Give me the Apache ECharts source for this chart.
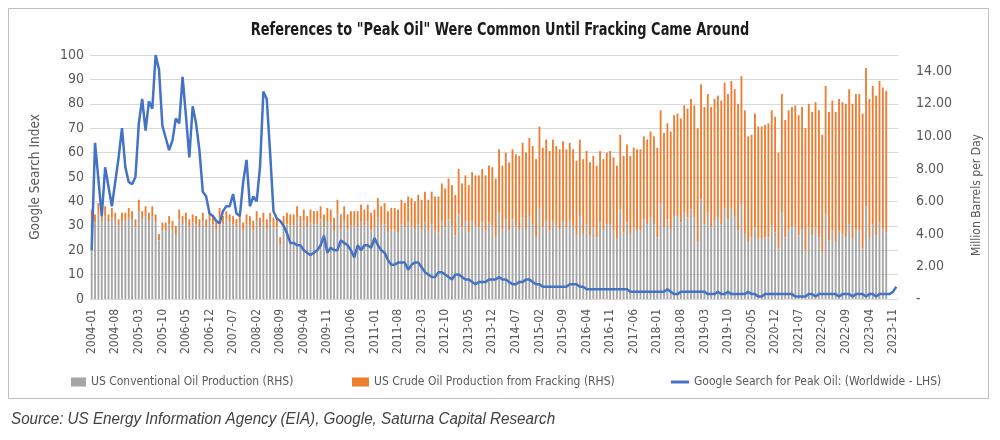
<!DOCTYPE html>
<html>
<head>
<meta charset="utf-8">
<script src="https://cdn.jsdelivr.net/npm/echarts@6/dist/echarts.min.js"></script>
<style>
  html, body { margin: 0; padding: 0; background: #fff; }
  #chart { width: 1000px; height: 440px; }
</style>
</head>
<body>
<div id="chart"></div>
<script>
const narrow = "'DejaVu Sans Condensed', 'Liberation Sans Narrow', sans-serif";

// monthly categories 2004-01 .. 2023-12
const months = [];
for (let y = 2004; y <= 2023; y++) {
  for (let m = 1; m <= 12; m++) months.push(y + "-" + String(m).padStart(2, "0"));
}

const leftTicks = [0, 10, 20, 30, 40, 50, 60, 70, 80, 90, 100];
const rightTicks = [0, 2, 4, 6, 8, 10, 12, 14];

// Google Search for Peak Oil (Worldwide, LHS)
const googleSearch = [
  20, 64, 49, 34, 54, 46, 38, 48, 58, 70,
  54, 48, 47, 50, 72, 82, 69, 81, 78, 100,
  94, 71, 66, 61, 65, 74, 72, 91, 75, 58,
  79, 72, 61, 44, 42, 35, 34, 32, 31, 36,
  38, 38, 43, 35, 34, 48, 57, 38, 42, 40,
  54, 85, 82, 60, 36, 33, 32, 30, 27, 23,
  23, 22, 22, 20, 19, 18, 19, 20, 22, 26,
  19, 21, 20, 20, 24, 23, 22, 20, 17, 22,
  20, 22, 22, 21, 25, 22, 20, 19, 16, 14,
  14, 15, 15, 15, 12, 14, 15, 15, 13, 11,
  10, 9, 9, 11, 11, 10, 9, 8, 10, 10,
  9, 8, 8, 7, 6, 7, 7, 7, 8, 8,
  8, 9, 8, 8, 7, 6, 6, 7, 7, 8,
  8, 7, 6, 6, 5, 5, 5, 5, 5, 5,
  5, 5, 6, 6, 6, 5, 5, 4, 4, 4,
  4, 4, 4, 4, 4, 4, 4, 4, 4, 4,
  3, 3, 3, 3, 3, 3, 3, 3, 3, 3,
  3, 4, 3, 2, 2, 3, 3, 3, 3, 3,
  3, 3, 3, 2, 2, 2, 3, 2, 2, 3,
  2, 2, 2, 2, 2, 3, 2, 2, 1, 1,
  2, 2, 2, 2, 2, 2, 2, 2, 2, 1,
  1, 1, 1, 2, 2, 1, 2, 2, 2, 2,
  2, 2, 1, 2, 2, 2, 1, 2, 2, 2,
  1, 2, 2, 1, 2, 2, 2, 2, 3, 5
];

// US Conventional Oil Production, million b/d (RHS)
const conventional = [
  4.9, 4.7, 5.2, 4.8, 5.1, 4.7, 5.0, 4.8, 4.5, 4.8,
  4.8, 5.0, 4.9, 4.4, 5.4, 4.9, 5.1, 4.8, 5.1, 4.7,
  3.6, 4.2, 4.2, 4.6, 4.3, 4.0, 4.9, 4.6, 4.8, 4.4,
  4.7, 4.6, 4.4, 4.8, 4.4, 4.8, 4.6, 4.3, 5.0, 4.6,
  4.9, 4.7, 4.6, 4.4, 4.7, 4.2, 4.6, 4.5, 4.2, 4.8,
  4.4, 4.7, 4.3, 4.7, 4.4, 4.4, 3.3, 4.4, 4.6, 4.5,
  4.5, 5.0, 4.4, 4.8, 4.4, 4.7, 4.6, 4.6, 4.9, 4.4,
  4.8, 4.7, 4.2, 5.2, 4.3, 4.8, 4.3, 4.5, 4.5, 4.4,
  4.8, 4.5, 4.8, 4.2, 4.4, 5.0, 4.5, 4.6, 4.1, 4.3,
  4.2, 4.1, 4.6, 4.4, 4.7, 4.5, 4.3, 4.6, 4.3, 4.7,
  4.2, 4.6, 4.2, 4.1, 4.8, 4.4, 4.9, 4.5, 3.9, 5.2,
  4.4, 4.8, 4.1, 4.8, 4.5, 4.4, 4.7, 4.2, 4.7, 4.5,
  3.8, 5.3, 4.3, 4.9, 4.2, 4.9, 4.5, 4.3, 5.0, 4.3,
  5.1, 4.6, 3.8, 5.6, 4.4, 4.8, 4.2, 4.8, 4.5, 4.3,
  4.8, 4.4, 4.8, 4.5, 3.9, 5.1, 4.0, 4.6, 3.9, 4.4,
  3.8, 4.7, 4.2, 4.6, 4.6, 4.2, 3.7, 5.5, 4.1, 4.7,
  4.0, 4.4, 4.3, 4.2, 4.9, 4.6, 5.0, 4.6, 3.8, 5.9,
  4.4, 4.9, 4.3, 5.1, 5.1, 4.7, 5.3, 5.0, 5.5, 5.0,
  3.5, 6.1, 4.6, 5.3, 4.4, 4.8, 5.0, 4.6, 5.6, 4.9,
  5.6, 5.1, 4.2, 5.8, 4.0, 3.5, 3.8, 4.4, 3.7, 3.7,
  3.8, 3.8, 4.5, 4.1, 3.1, 5.3, 3.8, 4.3, 4.4, 4.5,
  3.9, 4.3, 3.0, 4.4, 3.9, 4.4, 3.8, 2.9, 5.2, 3.6,
  4.2, 3.5, 4.2, 4.0, 3.8, 4.6, 3.7, 4.3, 4.2, 3.1,
  5.7, 3.8, 4.6, 3.9, 4.7, 4.3, 4.1, null, null, null
];

// US Crude Oil Production from Fracking, million b/d (RHS)
const fracking = [
  0.6, 0.5, 0.7, 0.5, 0.6, 0.5, 0.6, 0.5, 0.4, 0.5,
  0.5, 0.6, 0.5, 0.5, 0.7, 0.5, 0.6, 0.5, 0.6, 0.5,
  0.4, 0.5, 0.5, 0.5, 0.5, 0.5, 0.6, 0.5, 0.5, 0.5,
  0.5, 0.5, 0.5, 0.5, 0.5, 0.5, 0.5, 0.5, 0.6, 0.5,
  0.5, 0.5, 0.5, 0.5, 0.6, 0.5, 0.6, 0.6, 0.6, 0.6,
  0.6, 0.6, 0.6, 0.6, 0.6, 0.6, 0.5, 0.7, 0.7, 0.7,
  0.7, 0.7, 0.7, 0.7, 0.7, 0.8, 0.8, 0.8, 0.8, 0.8,
  0.8, 0.8, 0.8, 0.9, 0.9, 0.9, 0.9, 0.9, 0.9, 1.0,
  1.0, 1.0, 1.0, 1.1, 1.1, 1.2, 1.2, 1.3, 1.3, 1.3,
  1.4, 1.4, 1.5, 1.5, 1.6, 1.7, 1.7, 1.8, 1.8, 1.9,
  1.9, 2.0, 2.1, 2.2, 2.3, 2.4, 2.5, 2.5, 2.5, 2.8,
  2.7, 2.8, 2.9, 3.0, 3.1, 3.2, 3.3, 3.4, 3.5, 3.6,
  3.6, 3.9, 3.9, 4.1, 4.2, 4.3, 4.4, 4.5, 4.6, 4.7,
  4.8, 4.8, 4.8, 5.0, 4.9, 5.0, 4.9, 5.0, 4.9, 4.9,
  4.9, 4.8, 4.8, 4.7, 4.6, 4.7, 4.6, 4.5, 4.5, 4.4,
  4.4, 4.4, 4.4, 4.4, 4.5, 4.5, 4.5, 4.6, 4.7, 4.8,
  4.8, 4.9, 4.9, 5.0, 5.1, 5.2, 5.3, 5.4, 5.5, 5.7,
  5.8, 5.9, 6.0, 6.2, 6.3, 6.4, 6.6, 6.7, 6.8, 6.9,
  7.0, 7.1, 7.2, 7.3, 7.4, 7.5, 7.5, 7.6, 7.7, 7.7,
  7.8, 7.8, 7.8, 7.9, 7.6, 6.5, 6.3, 7.0, 6.9, 6.9,
  6.9, 7.0, 7.1, 7.1, 5.9, 7.3, 7.2, 7.3, 7.4, 7.4,
  7.4, 7.5, 7.5, 7.6, 7.6, 7.7, 7.8, 7.2, 7.9, 7.9,
  8.0, 8.0, 8.1, 8.1, 8.2, 8.3, 8.3, 8.3, 8.4, 8.3,
  8.5, 8.5, 8.5, 8.6, 8.7, 8.7, 8.7, null, null, null
];

const chart = echarts.init(document.getElementById("chart"), null, { renderer: "canvas" });

const legendText = { fontFamily: narrow, fontSize: 12, color: "#595959" };

const option = {
  animation: false,
  backgroundColor: "#fff",
  graphic: [
    {
      type: "rect",
      shape: { x: 8.5, y: 8.5, width: 980, height: 390 },
      style: { fill: "none", stroke: "#BFBFBF", lineWidth: 1 },
      silent: true,
    },
    {
      // title, squeezed to look like the condensed face of the original
      type: "text",
      x: 500,
      y: 30,
      scaleX: 0.8,
      style: {
        text: 'References to "Peak Oil" Were Common Until Fracking Came Around',
        font: "bold 18px 'DejaVu Sans Condensed', sans-serif",
        fill: "#1a1a1a",
        align: "center",
        verticalAlign: "middle",
      },
    },
    {
      type: "text",
      x: 977,
      y: 195,
      rotation: Math.PI / 2,
      style: {
        text: "Million Barrels per Day",
        font: "12px 'DejaVu Sans Condensed', sans-serif",
        fill: "#595959",
        align: "center",
        verticalAlign: "middle",
      },
    },
    {
      type: "text",
      x: 11,
      y: 420,
      scaleX: 0.95,
      style: {
        text: "Source: US Energy Information Agency (EIA), Google, Saturna Capital Research",
        font: "italic 16px 'Liberation Sans', sans-serif",
        fill: "#404040",
        align: "left",
        verticalAlign: "middle",
      },
    },
  ],
  legend: [
    {
      data: ["US Conventional Oil Production (RHS)"],
      left: 66, top: 371, icon: "rect", itemWidth: 15, itemHeight: 9,
      textStyle: legendText,
    },
    {
      data: ["US Crude Oil Production from Fracking (RHS)"],
      left: 347, top: 371, icon: "rect", itemWidth: 17, itemHeight: 9,
      textStyle: legendText,
    },
    {
      data: ["Google Search for Peak Oil: (Worldwide - LHS)"],
      left: 666, top: 371, icon: "rect", itemWidth: 18, itemHeight: 3,
      textStyle: legendText,
    },
  ],
  grid: { left: 90, right: 102, top: 55, bottom: 141 },
  xAxis: {
    type: "category",
    data: months,
    axisTick: { show: false },
    axisLine: { show: false },
    axisLabel: {
      interval: 6,
      rotate: 90,
      margin: 10,
      fontFamily: narrow,
      fontSize: 12,
      color: "#595959",
    },
  },
  yAxis: [
    {
      type: "value",
      min: leftTicks[0],
      max: leftTicks[leftTicks.length - 1],
      interval: 10,
      name: "Google Search Index",
      nameLocation: "middle",
      nameGap: 48,
      nameTextStyle: { fontFamily: narrow, fontSize: 13.5, color: "#595959" },
      axisLabel: { fontFamily: narrow, fontSize: 14, color: "#595959", margin: 6 },
      splitLine: { lineStyle: { color: "#D9D9D9", width: 1 } },
    },
    {
      type: "value",
      min: rightTicks[0],
      max: 15,
      interval: 2,
      axisLabel: {
        fontFamily: narrow,
        fontSize: 14,
        color: "#595959",
        margin: 18,
        formatter: (v) => (v === 0 ? "-" : v > rightTicks[rightTicks.length - 1] ? "" : v.toFixed(2)),
      },
      splitLine: { show: false },
    },
  ],
  series: [
    {
      name: "US Conventional Oil Production (RHS)",
      type: "bar",
      stack: "oil",
      yAxisIndex: 1,
      barWidth: "55%",
      itemStyle: { color: "#A5A5A5" },
      data: conventional,
    },
    {
      name: "US Crude Oil Production from Fracking (RHS)",
      type: "bar",
      stack: "oil",
      yAxisIndex: 1,
      barWidth: "55%",
      itemStyle: { color: "#ED7D31" },
      data: fracking,
    },
    {
      name: "Google Search for Peak Oil: (Worldwide - LHS)",
      type: "line",
      yAxisIndex: 0,
      showSymbol: false,
      symbol: "none",
      lineStyle: { color: "#4472C4", width: 2.5 },
      itemStyle: { color: "#4472C4" },
      data: googleSearch,
      z: 5,
    },
  ],
};

chart.setOption(option);

window.addEventListener("resize", () => {
  chart.resize();
});
</script>
</body>
</html>
